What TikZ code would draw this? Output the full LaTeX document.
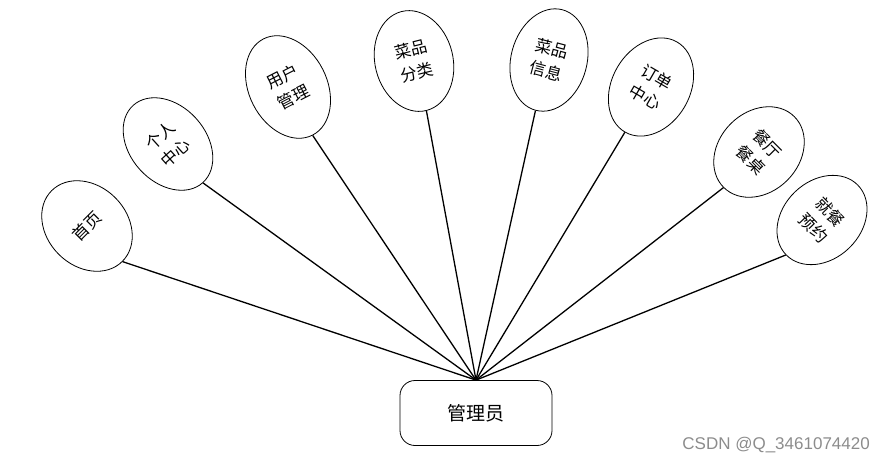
\documentclass[tikz,border=0pt]{standalone}
\usepackage{fontspec}
\newfontfamily\cjk{Noto Sans CJK SC}
\newfontfamily\wmfont{Liberation Sans}
\usetikzlibrary{shapes.geometric}
\tikzset{
  ell/.style={ellipse, draw=black, line width=0.8pt, fill=white, inner sep=0pt,
    align=center, font=\cjk\fontsize{16.5}{23}\selectfont},
  link/.style={draw=black, line width=1.3pt},
  adminbox/.style={draw=black, line width=0.8pt, rounded corners=15pt, fill=white,
    minimum width=152pt, minimum height=65pt, inner sep=0pt,
    font=\cjk\fontsize{19}{22}\selectfont},
  wm/.style={font=\wmfont\fontsize{17}{20}\selectfont, text=black!45, inner sep=0pt}
}
\begin{document}
\begin{tikzpicture}[x=1pt,y=-1pt]
\useasboundingbox (0,0) rectangle (885,464);
\node[adminbox] (admin) at (476,413) {管理员};
\node[ell, rotate=45, minimum width=80pt, minimum height=100pt] (e1) at (87,226) {首页};
\node[ell, rotate=42, minimum width=76pt, minimum height=104pt] (e2) at (168,144) {个人\\中心};
\node[ell, rotate=27, minimum width=78pt, minimum height=108pt] (e3) at (288,87) {用户\\管理};
\node[ell, rotate=14, minimum width=78pt, minimum height=102pt] (e4) at (414,61) {菜品\\分类};
\node[ell, rotate=-15, minimum width=76pt, minimum height=104pt] (e5) at (549,60) {菜品\\信息};
\node[ell, rotate=-30, minimum width=78pt, minimum height=104pt] (e6) at (651,87) {订单\\中心};
\node[ell, rotate=-45, minimum width=80pt, minimum height=100pt] (e7) at (759,152) {餐厅\\餐桌};
\node[ell, rotate=-46, minimum width=78pt, minimum height=100pt] (e8) at (822,220) {就餐\\预约};
\foreach \i in {1,...,8} {\draw[link] (e\i.south) -- (admin.north);}
\node[wm, anchor=east] (wmark) at (870,445) {CSDN @Q\_3461074420};
\end{tikzpicture}
\end{document}
